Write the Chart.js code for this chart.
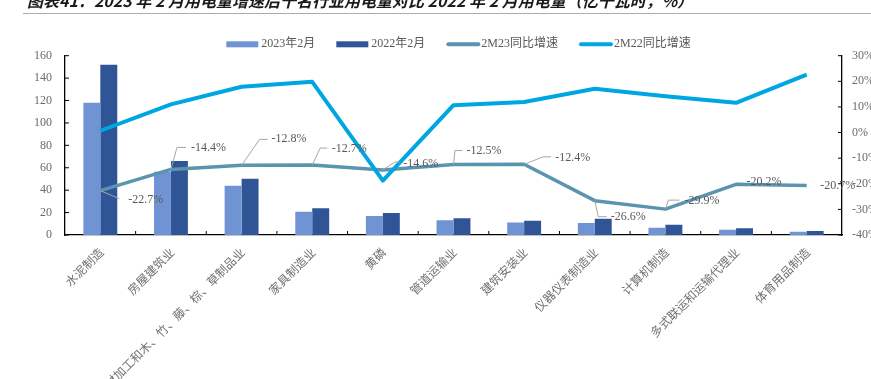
<!DOCTYPE html>
<html>
<head>
<meta charset="utf-8">
<script src="https://cdn.jsdelivr.net/npm/chart.js@4.4.1/dist/chart.umd.min.js"></script>
<style>
    body { margin: 0; background: #fff; }
    #wrap { position: relative; width: 871px; height: 379px; overflow: hidden; }
    #wrap canvas { position: absolute; left: 0; top: 0; }
    #title {
        position: absolute; left: 27px; top: -8px; white-space: nowrap;
        font: italic bold 16px "Noto Sans CJK SC", sans-serif; line-height: 16px; color: #1a1a1a;
    }
    #rule { position: absolute; left: 23px; right: 0; top: 13px; border-top: 1.5px solid #9fb0bd; }
</style>
</head>
<body>
<div id="wrap">
    <canvas id="chart" width="871" height="379"></canvas>
    <div id="title">图表41：2023 年 2 月用电量增速后十名行业用电量对比 2022 年 2 月用电量（亿千瓦时，%）</div>
    <div id="rule"></div>
</div>
<script>
// 行业
const categories = [
    '水泥制造', '房屋建筑业', '木材加工和木、竹、藤、棕、草制品业', '家具制造业', '黄磷',
    '管道运输业', '建筑安装业', '仪器仪表制造业', '计算机制造', '多式联运和运输代理业', '体育用品制造'
];
// 用电量（亿千瓦时）
const power2023 = [118, 56.5, 44, 20.7, 17, 13.2, 11.1, 10.6, 6.4, 4.7, 2.8];
const power2022 = [152, 66, 50.3, 23.8, 19.7, 14.9, 12.7, 14.5, 9.2, 6.0, 3.6];
// 同比增速（%）
const growth2M23 = [-22.7, -14.4, -12.8, -12.7, -14.6, -12.5, -12.4, -26.6, -29.9, -20.2, -20.7];
const growth2M22 = [0.7, 11.0, 17.9, 19.8, -18.8, 10.7, 11.9, 17.1, 14.2, 11.6, 22.6];

const COLORS = { bar23: '#7093d3', bar22: '#2f5597', line23: '#5b94ae', line22: '#00a6e2' };
const SERIF = '"Liberation Serif", "Noto Sans CJK SC", serif';

// 数据标签位置（相对数据点）：文字偏移 + 引导线
const labelPlacement = [
    { dx: 28, dy: 9.5, path: [[0, 0], [19, 8]] },
    { dx: 20, dy: -22, path: [[0, 0], [6, -22], [15, -22]] },
    { dx: 30, dy: -26, path: [[0, 0], [18, -26], [26, -26]] },
    { dx: 19.5, dy: -16.5, path: [[0, 0], [8, -17], [15, -17]] },
    { dx: 20.5, dy: -6.5, path: [[0, 0], [12, -8], [17, -8]] },
    { dx: 13, dy: -13.5, path: [[0, 0], [1.5, -14], [9, -14]] },
    { dx: 31, dy: -6, path: [[0, 0], [19, -7.5], [27, -7.5]] },
    { dx: 16, dy: 16, path: [[0, 0], [3.5, 16], [12, 16]] },
    { dx: 19, dy: -8.5, path: [[0, 0], [3, -9], [14, -9]] },
    { dx: 10.5, dy: -2.5, path: null },
    { dx: 13.5, dy: 0.5, path: null }
];

const legendItems = [
    { text: '2023年2月', color: COLORS.bar23, kind: 'box' },
    { text: '2022年2月', color: COLORS.bar22, kind: 'box' },
    { text: '2M23同比增速', color: COLORS.line23, kind: 'line' },
    { text: '2M22同比增速', color: COLORS.line22, kind: 'line' }
];

const decorPlugin = {
    id: 'decor',
    afterDraw(chart) {
        const { ctx, chartArea: area, scales: { x, y, y1 } } = chart;
        ctx.save();

        // 刻度线（向内）
        ctx.strokeStyle = '#000';
        ctx.lineWidth = 1;
        const seg = (x1, y1_, x2, y2) => { ctx.beginPath(); ctx.moveTo(x1, y1_); ctx.lineTo(x2, y2); ctx.stroke(); };
        y.ticks.forEach(t => { const py = y.getPixelForValue(t.value); seg(area.left, py, area.left + 4, py); });
        y1.ticks.forEach(t => { const py = y1.getPixelForValue(t.value); seg(area.right - 4, py, area.right, py); });
        const step = x.getPixelForValue(1) - x.getPixelForValue(0);
        for (let i = 1; i < categories.length; i++) {
            const px = x.getPixelForValue(i) - step / 2;
            seg(px, area.bottom, px, area.bottom - 4);
        }

        // 2M23 数据标签
        const meta = chart.getDatasetMeta(2);
        ctx.font = '12px ' + SERIF;
        ctx.fillStyle = '#595959';
        ctx.textBaseline = 'middle';
        ctx.textAlign = 'left';
        meta.data.forEach((pt, i) => {
            const place = labelPlacement[i];
            if (place.path) {
                ctx.strokeStyle = '#a6a6a6';
                ctx.lineWidth = 1;
                ctx.beginPath();
                place.path.forEach(([px, py], k) => {
                    if (k === 0) ctx.moveTo(pt.x + px, pt.y + py);
                    else ctx.lineTo(pt.x + px, pt.y + py);
                });
                ctx.stroke();
            }
            ctx.fillText(growth2M23[i].toFixed(1) + '%', pt.x + place.dx, pt.y + place.dy);
        });

        // 图例
        const legendY = 44.3;
        const symW = 32, gapSym = 3, gapItem = 21;
        const widths = legendItems.map(it => symW + gapSym + ctx.measureText(it.text).width);
        const total = widths.reduce((a, b) => a + b, 0) + gapItem * (legendItems.length - 1);
        let lx = 458.5 - total / 2;
        legendItems.forEach((it, i) => {
            if (it.kind === 'box') {
                ctx.fillStyle = it.color;
                ctx.fillRect(lx, legendY - 3, symW, 6);
            } else {
                ctx.strokeStyle = it.color;
                ctx.lineWidth = 4;
                ctx.lineCap = 'round';
                seg(lx + 2, legendY, lx + symW, legendY);
                ctx.lineCap = 'butt';
            }
            ctx.fillStyle = '#595959';
            ctx.fillText(it.text, lx + symW + gapSym, legendY);
            lx += widths[i] + gapItem;
        });
        ctx.restore();
    }
};

new Chart(document.getElementById('chart'), {
    type: 'bar',
    data: {
        labels: categories,
        datasets: [
            { label: '2023年2月', data: power2023, backgroundColor: COLORS.bar23, yAxisID: 'y', order: 2,
              categoryPercentage: 0.48, barPercentage: 1.0 },
            { label: '2022年2月', data: power2022, backgroundColor: COLORS.bar22, yAxisID: 'y', order: 2,
              categoryPercentage: 0.48, barPercentage: 1.0 },
            { type: 'line', label: '2M23同比增速', data: growth2M23, yAxisID: 'y1', order: 1,
              borderColor: COLORS.line23, borderWidth: 3.5, pointRadius: 0, borderJoinStyle: 'round', tension: 0 },
            { type: 'line', label: '2M22同比增速', data: growth2M22, yAxisID: 'y1', order: 0,
              borderColor: COLORS.line22, borderWidth: 4, pointRadius: 0, borderJoinStyle: 'round', tension: 0 }
        ]
    },
    options: {
        responsive: false,
        animation: false,
        devicePixelRatio: 1,
        layout: { padding: { top: 55.7, left: 0, right: 0, bottom: 0 } },
        plugins: { legend: { display: false }, tooltip: { enabled: false } },
        scales: {
            x: {
                grid: { display: false, drawTicks: false },
                border: { color: '#000', width: 1.3 },
                ticks: {
                    autoSkip: false, maxRotation: 45, minRotation: 45, padding: 11, labelOffset: 2,
                    color: '#707070', font: { family: SERIF, size: 12 }
                },
                afterFit: scale => { scale.height = 144; }
            },
            y: {
                position: 'left', min: 0, max: 160,
                grid: { display: false, drawTicks: false },
                border: { color: '#000', width: 1.3 },
                ticks: { stepSize: 20, padding: 13, color: '#6b6b6b', font: { family: SERIF, size: 12 } },
                afterFit: scale => { scale.width = 65; }
            },
            y1: {
                position: 'right', min: -40, max: 30,
                grid: { display: false, drawTicks: false },
                border: { color: '#000', width: 1.3 },
                ticks: { stepSize: 10, padding: 10, color: '#6b6b6b', font: { family: SERIF, size: 12 },
                         callback: value => value + '%' },
                afterFit: scale => { scale.width = 29; }
            }
        }
    },
    plugins: [decorPlugin]
});
</script>
</body>
</html>
